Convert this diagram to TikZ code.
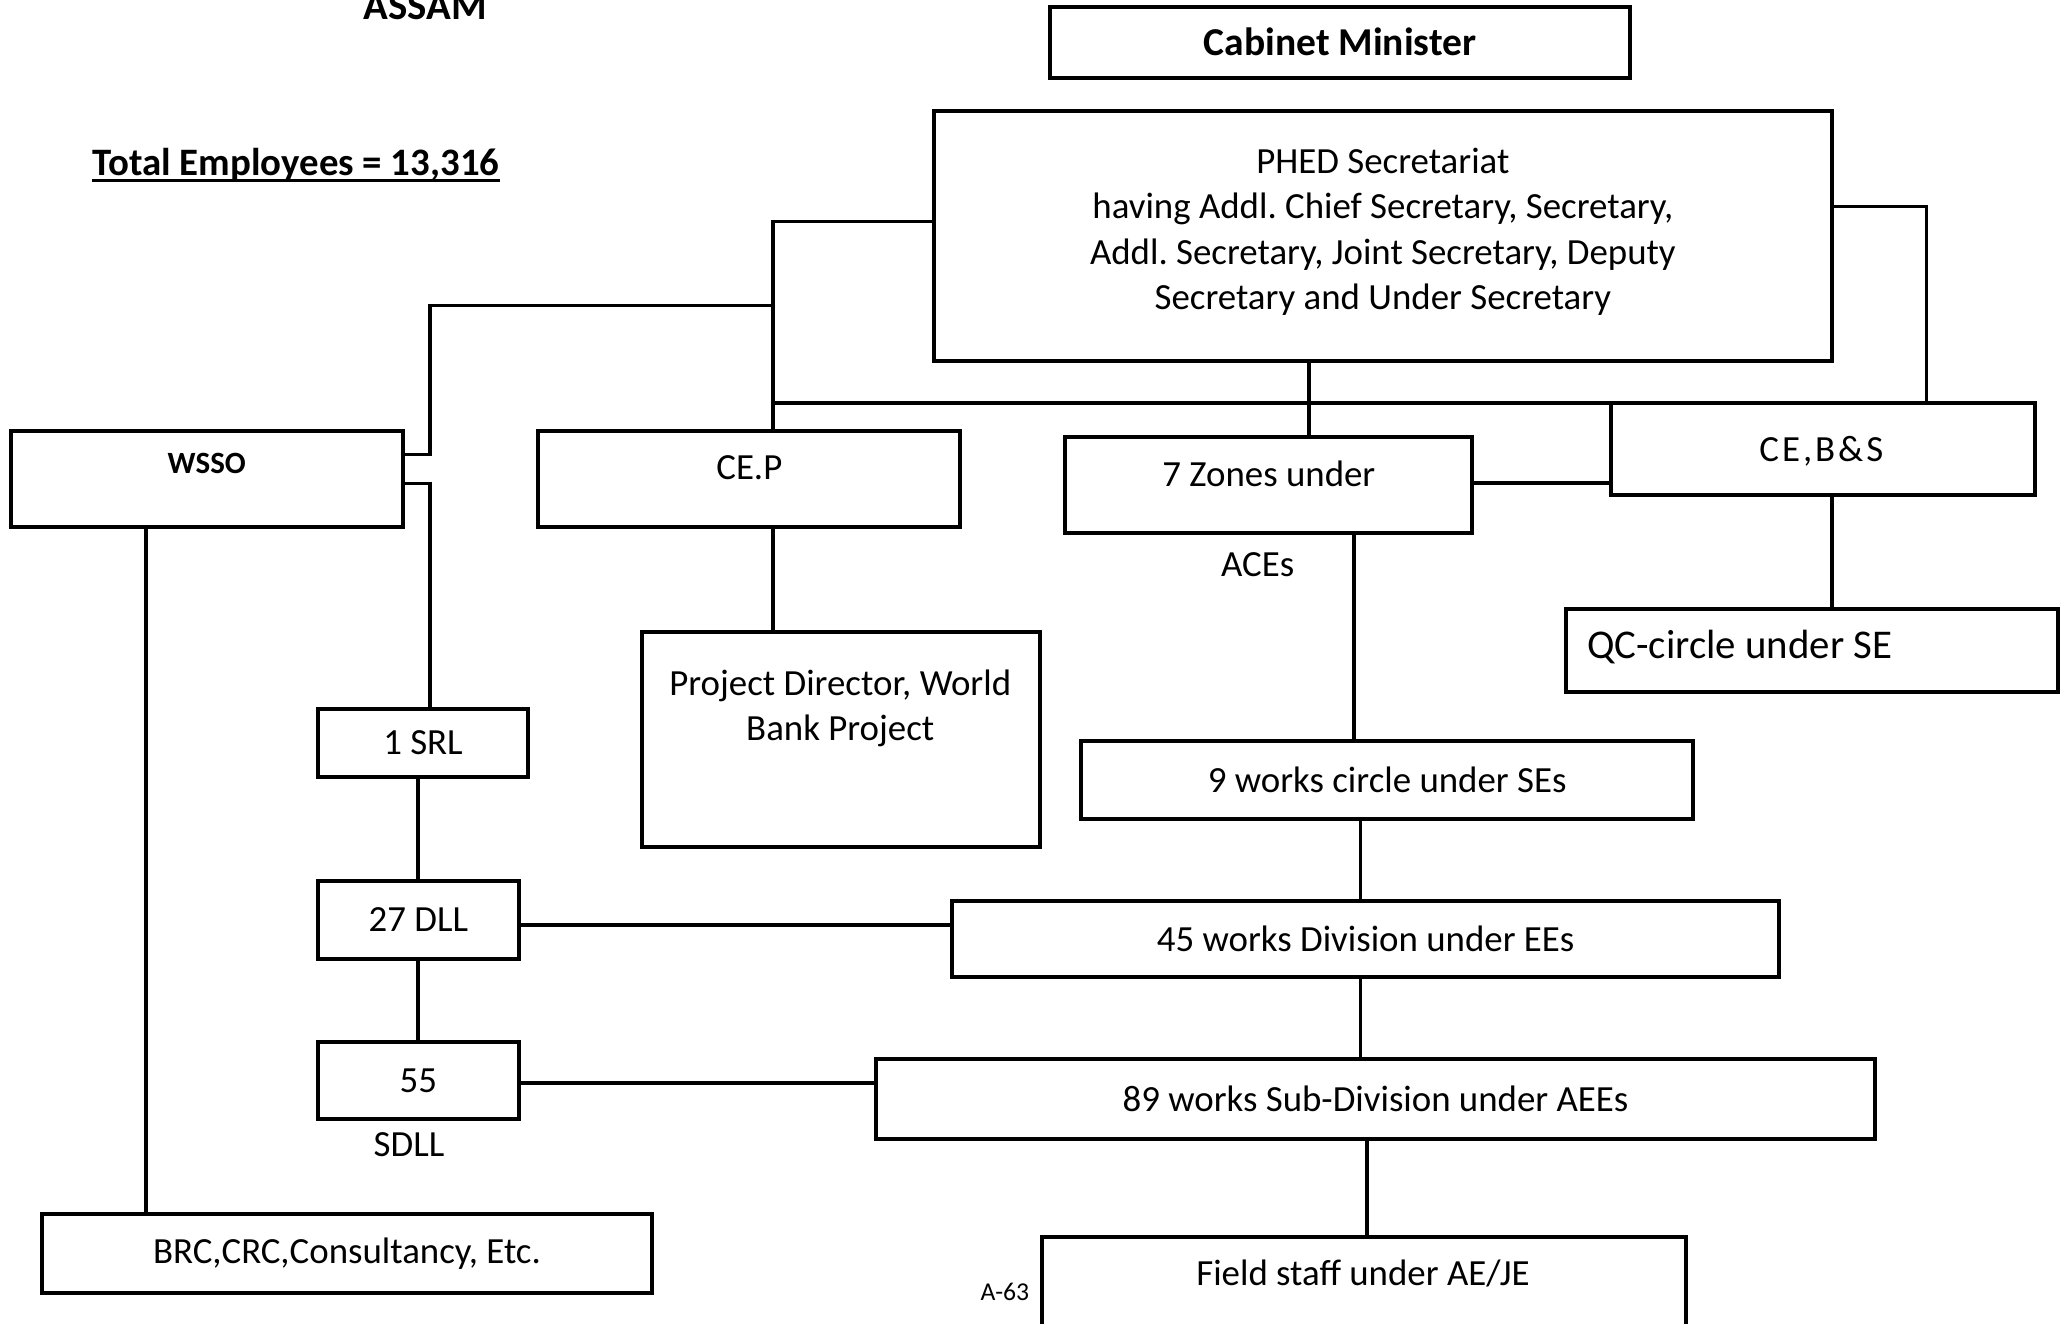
\documentclass[tikz,border=0pt]{standalone}
\usepackage{fontspec}
\setmainfont{Carlito}
\newfontfamily\spacedfont[LetterSpace=8]{Carlito}
\usetikzlibrary{calc}
\frenchspacing

\tikzset{
  box/.style={draw, line width=3pt, inner sep=0pt, align=center,
    font=\fontsize{28}{34.5}\selectfont},
  txt/.style={inner sep=0pt, align=center, font=\fontsize{28}{34.5}\selectfont},
  link/.style={line width=2.6pt},
  heavy/.style={line width=3.2pt},
}

\begin{document}
\begin{tikzpicture}[x=1pt,y=-1pt]
\useasboundingbox (0,0) rectangle (1568,1005);
\fill[white] (0,0) rectangle (1568,1005);
\clip (0,0) rectangle (1568,1005);

% headings
\node[txt, anchor=base, font=\fontsize{31}{36}\selectfont\bfseries] (title) at (322.8,14.7) {ASSAM};
\node[txt, anchor=base west, font=\fontsize{29.5}{35}\selectfont\bfseries] (total) at (70,133) {Total Employees = 13,316};
\draw[line width=2.4pt] ([yshift=-4pt]total.base west) -- ([yshift=-4pt]total.base east);

% boxes
\node[box, minimum width=441pt, minimum height=54pt, font=\fontsize{30}{36}\selectfont\bfseries] (cab) at (1017.5,32) {Cabinet Minister};
\node[box, minimum width=682pt, minimum height=190pt] (phed) at (1050,179) {};
\node[txt] (phedT) at (1050,176) {PHED Secretariat\\having Addl. Chief Secretary, Secretary,\\Addl. Secretary, Joint Secretary, Deputy\\Secretary and Under Secretary};

\node[box, minimum width=297.5pt, minimum height=73pt] (wsso) at (157,363.5) {};
\node[txt, font=\fontsize{23.5}{28}\selectfont\bfseries] (wssoT) at (157,352) {WSSO};

\node[box, minimum width=320.5pt, minimum height=73pt] (cep) at (568.75,363.5) {};
\node[txt] (cepT) at (569,355) {CE.P};

\node[box, minimum width=309pt, minimum height=73pt] (zones) at (963.5,368.5) {};
\node[txt] (zonesT) at (963.5,360) {7 Zones under};
\node[txt] (aces) at (955,429) {ACEs};

\node[box, minimum width=322pt, minimum height=70pt] (ceb) at (1384,341) {};
\node[txt, font=\fontsize{28}{34.5}\spacedfont] (cebT) at (1383,343) {CE,B\&S};

\node[box, minimum width=374pt, minimum height=62.5pt] (qc) at (1376,494) {};
\node[txt, anchor=west, font=\fontsize{31}{37}\selectfont] (qcT) at (1205,491) {QC-circle under SE};

\node[box, minimum width=302.5pt, minimum height=163pt] (pd) at (638.75,561.5) {};
\node[txt] (pdT) at (638,538) {Project Director, World\\Bank Project};

\node[box, minimum width=159.6pt, minimum height=52pt] (srl) at (321.2,564) {1 SRL};
\node[box, minimum width=152.7pt, minimum height=59pt] (dll) at (317.65,698.5) {27 DLL};
\node[box, minimum width=152.7pt, minimum height=59pt] (sdll) at (317.65,820.5) {55};
\node[txt] (sdllT) at (310.6,869) {SDLL};

\node[box, minimum width=464.6pt, minimum height=59pt] (nine) at (1053.3,592.5) {9 works circle under SEs};
\node[box, minimum width=628pt, minimum height=58pt] (ff) at (1037,713) {45 works Division under EEs};
\node[box, minimum width=759pt, minimum height=61pt] (en) at (1044.5,834.5) {89 works Sub-Division under AEEs};
\node[box, minimum width=463pt, minimum height=60pt] (brc) at (263.5,952) {BRC,CRC,Consultancy, Etc.};
\node[box, minimum width=489pt, minimum height=101pt] (field) at (1035.5,989.5) {};
\node[txt] (fieldT) at (1035,967) {Field staff under AE/JE};
\node[txt, font=\fontsize{19.5}{23}\selectfont] (page) at (763,981) {A-63};

% connector elbows
\coordinate (pl) at (587,168);
\coordinate (bl) at (587,306);
\coordinate (wa) at (587,232);
\coordinate (wb) at (326.5,232);
\coordinate (wc) at (326.5,345);
\coordinate (wd) at (326.5,367);
\coordinate (pr) at (1463,157);
\coordinate (zx) at (994,306);
\coordinate (zc) at (1170,367);
\coordinate (qx) at (1391,420);
\coordinate (nx) at (1028,480);
\coordinate (fx) at (1033,650);
\coordinate (gx) at (1038,900);
\coordinate (bx) at (111,600);
\coordinate (sx) at (317.5,620);
\coordinate (dy) at (500,702.5);
\coordinate (ey) at (500,822.5);

% connectors
\draw[link] (phed.west |- pl) -- (pl) -- (pl |- cep.north);
\draw[heavy] (bl) -- (bl -| ceb.west);
\draw[link] (wa) -- (wb) -- (wc) -- (wsso.east |- wc);
\draw[link] (wsso.east |- wd) -- (wd) -- (wd |- srl.north);
\draw[link] (phed.east |- pr) -- (pr) -- (pr |- ceb.north);
\draw[link] (zx |- phed.south) -- (zx |- zones.north);
\draw[heavy] (zones.east |- zc) -- (ceb.west |- zc);
\draw[link] (qx |- ceb.south) -- (qx |- qc.north);
\draw[link] (pl |- cep.south) -- (pl |- pd.north);
\draw[link] (nx |- zones.south) -- (nx |- nine.north);
\draw[link] (fx |- nine.south) -- (fx |- ff.north);
\draw[link] (fx |- ff.south) -- (fx |- en.north);
\draw[link] (gx |- en.south) -- (gx |- field.north);
\draw[link] (bx |- wsso.south) -- (bx |- brc.north);
\draw[link] (sx |- srl.south) -- (sx |- dll.north);
\draw[link] (sx |- dll.south) -- (sx |- sdll.north);
\draw[heavy] (dll.east |- dy) -- (ff.west |- dy);
\draw[heavy] (sdll.east |- ey) -- (en.west |- ey);
\end{tikzpicture}
\end{document}
